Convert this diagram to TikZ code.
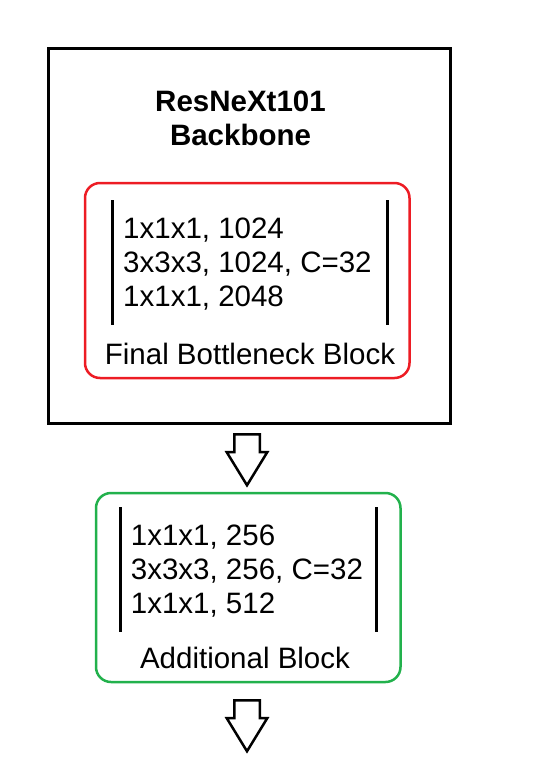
\documentclass[tikz,border=0pt]{standalone}
\usepackage{fontspec}
\setmainfont{Liberation Sans}
\usetikzlibrary{shapes.arrows}
\definecolor{paintred}{HTML}{ED1C24}
\definecolor{paintgreen}{HTML}{22B14C}
\tikzset{
  heading/.style={font=\bfseries\fontsize{29.5}{34}\selectfont, align=center, inner sep=0pt},
  layers/.style={font=\fontsize{29.5}{34}\selectfont, align=left, inner sep=0pt},
  caption/.style={font=\fontsize{29.5}{34}\selectfont, inner sep=0pt},
  frame/.style={draw, line width=3pt, inner sep=0pt},
  blockbox/.style={rounded corners=15pt, line width=2.5pt, inner sep=0pt},
  bar/.style={line width=2.5pt},
  blockarrow/.style={single arrow, draw, line width=2.5pt, rotate=-90, inner sep=11.5pt,
    minimum width=38pt, minimum height=51pt, single arrow head extend=7.5pt,
    single arrow tip angle=63, anchor=tail}
}

\begin{document}
\begin{tikzpicture}[x=1pt,y=-1pt]
\useasboundingbox (0,0) rectangle (536,774);

% backbone frame
\node[frame, minimum width=402pt, minimum height=374.5pt] (backbone) at (249.5,235.75) {};
\node[heading, anchor=base] (title) at (240.5,145) {ResNeXt101\\Backbone};

% final bottleneck block
\node[blockbox, draw=paintred, minimum width=324.5pt, minimum height=195pt] (finalblk) at (247.25,280.5) {};
\draw[bar] (112.3,200) -- (112.3,325);
\draw[bar] (387.3,200) -- (387.3,325);
\node[layers, anchor=base west] (finalconv) at (123,306) {1x1x1, 1024\\3x3x3, 1024, C=32\\1x1x1, 2048};
\node[caption, anchor=base] (finalname) at (250,364) {Final Bottleneck Block};

% additional block
\node[blockbox, draw=paintgreen, minimum width=304.5pt, minimum height=189pt] (addblk) at (248.25,587.5) {};
\draw[bar] (120.7,507) -- (120.7,632);
\draw[bar] (376.7,507) -- (376.7,632);
\node[layers, anchor=base west] (addconv) at (130.7,613) {1x1x1, 256\\3x3x3, 256, C=32\\1x1x1, 512};
\node[caption, anchor=base] (addname) at (245,668) {Additional Block};

% arrows
\node[blockarrow] (arrowA) at (247,433) {};
\node[blockarrow] (arrowB) at (247,699) {};

\end{tikzpicture}
\end{document}
